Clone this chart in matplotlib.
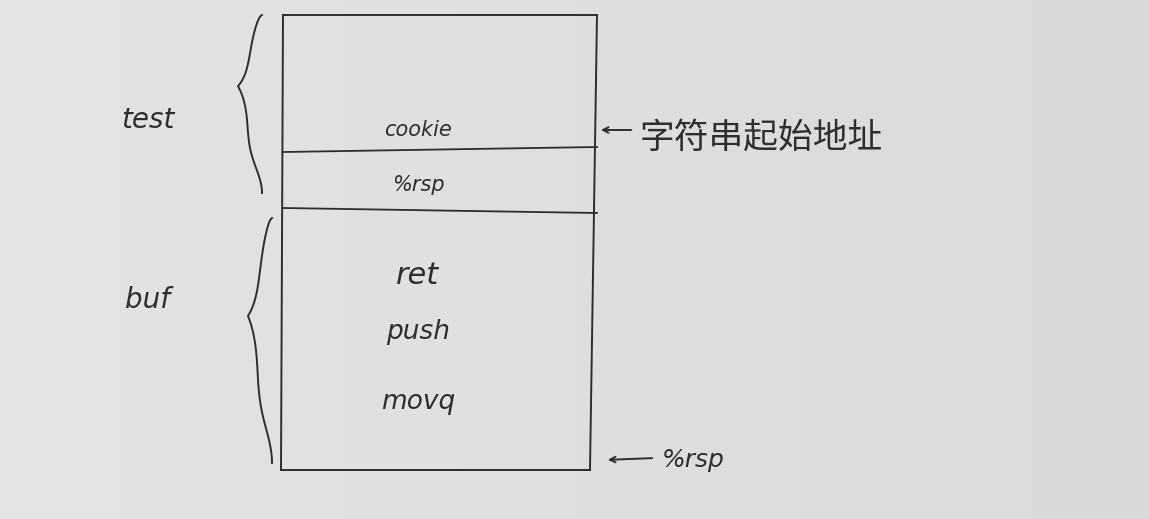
import matplotlib
matplotlib.use('Agg')
import matplotlib.pyplot as plt
import numpy as np

plt.rcParams['font.family'] = ['Noto Sans CJK SC', 'DejaVu Sans']

# Stack frame: horizontal boundaries (pixel rows, top to bottom)
box_left, box_right = 283, 597
box_top, box_bottom = 15, 470
divider_rows = [152, 208]

# Labels inside the cells
cell_labels = ['cookie', '%rsp', 'ret', 'push', 'movq']
cell_rows = [130, 185, 275, 332, 402]
cell_sizes = [15, 15, 22, 19, 19]

# Region braces on the left
region_names = ['test', 'buf']
region_spans = [(15, 193), (218, 463)]
region_label_rows = [120, 300]

# Annotations on the right
note_texts = ['字符串起始地址', '%rsp']
note_rows = [130, 460]

ink = '#2e2e2e'

fig = plt.figure(figsize=(11.49, 5.19), dpi=100)
ax = fig.add_axes([0, 0, 1, 1])
ax.set_xlim(0, 1149)
ax.set_ylim(519, 0)
ax.axis('off')

# paper background, slightly darker towards the right
grad = np.linspace(0, 1, 256)[None, :]
ax.imshow(grad, extent=[0, 1149, 519, 0], cmap=plt.matplotlib.colors.LinearSegmentedColormap.from_list(
    'paper', ['#e4e4e2', '#dadad8']), aspect='auto', zorder=0)

# box
ax.plot([box_left, box_left - 2], [box_top, box_bottom], color=ink, lw=1.4)
ax.plot([box_right, box_right - 7], [box_top, box_bottom], color=ink, lw=1.4)
ax.plot([box_left, box_right], [box_top, box_top], color=ink, lw=1.4)
ax.plot([box_left - 2, box_right - 7], [box_bottom, box_bottom], color=ink, lw=1.4)
for i, y in enumerate(divider_rows):
    slope = -5 if i == 0 else 5
    ax.plot([box_left, box_right], [y, y + slope], color=ink, lw=1.3)

for lab, y, s in zip(cell_labels, cell_rows, cell_sizes):
    ax.text(418, y, lab, ha='center', va='center', fontsize=s, color=ink,
            family='DejaVu Sans', style='italic')


def brace(y0, y1, x_edge, x_tip, depth=14):
    mid = y0 + (y1 - y0) * 0.4
    t = np.linspace(0, 1, 60)
    # upper half
    yu = y0 + (mid - y0) * t
    xu = x_edge - depth * np.sin(np.pi * t / 2) ** 0.6 + (x_tip - x_edge + depth) * t ** 6
    # lower half
    yl = mid + (y1 - mid) * t
    xl = x_tip + (x_edge - depth - x_tip) * (1 - (1 - t) ** 6) + depth * np.sin(np.pi * t / 2) ** 8
    ax.plot(np.r_[xu, xl], np.r_[yu, yl], color=ink, lw=1.4)


brace(region_spans[0][0], region_spans[0][1], 262, 238)
brace(region_spans[1][0], region_spans[1][1], 272, 248)

for name, y in zip(region_names, region_label_rows):
    ax.text(148, y, name, ha='center', va='center', fontsize=20, color=ink,
            family='DejaVu Sans', style='italic')

# arrows
ax.annotate('', xy=(598, note_rows[0]), xytext=(634, note_rows[0]),
            arrowprops=dict(arrowstyle='->', color=ink, lw=1.4))
ax.text(640, note_rows[0] + 8, note_texts[0], ha='left', va='center', fontsize=25, color=ink)
ax.annotate('', xy=(605, note_rows[1]), xytext=(655, note_rows[1] - 2),
            arrowprops=dict(arrowstyle='->', color=ink, lw=1.4))
ax.text(662, note_rows[1], note_texts[1], ha='left', va='center', fontsize=18, color=ink,
        family='DejaVu Sans', style='italic')

fig.savefig('out.png', dpi=100)
